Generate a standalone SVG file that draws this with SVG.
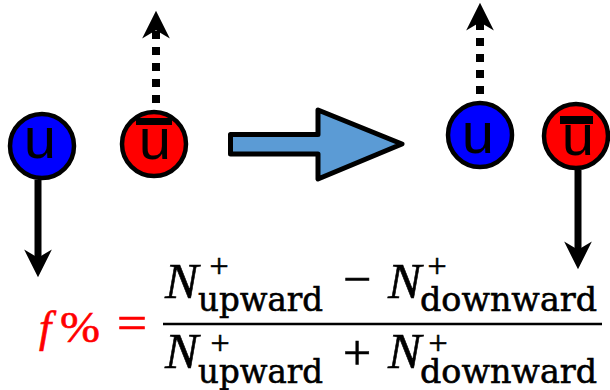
<svg xmlns="http://www.w3.org/2000/svg" width="610" height="390" viewBox="0 0 610 390">
<style>
.q{stroke:#000;stroke-width:4.5}
.blue{fill:#0000FF}
.red{fill:#FF0000}
.lbl{font-family:"Liberation Sans",Arial,sans-serif;font-size:58px;fill:#000;text-anchor:middle}
.solid{stroke:#000;stroke-width:7;fill:none;marker-end:url(#head)}
.dot{stroke:#000;stroke-width:8;fill:none;stroke-dasharray:8 8;marker-end:url(#head)}
.mi{font-family:"Liberation Serif","Times New Roman",serif;font-style:italic}
.mr{font-family:"Liberation Serif","Times New Roman",serif}
.sub{font-family:"DejaVu Serif",serif;font-size:33px}
.sup{font-family:"Liberation Serif",serif;font-size:34px;text-anchor:middle}
#formula text{stroke:#000;stroke-width:0.6}
#formula text.rd{fill:#FF0000;stroke:#FF0000}
</style>
<defs>
<marker id="head" markerUnits="userSpaceOnUse" markerWidth="30" markerHeight="30" viewBox="0 -13 25 26" refX="9" refY="0" orient="auto">
<path d="M0,-12 L24,0 L0,12 L7,0 Z" fill="#000"/>
</marker>
</defs>
<g id="connectors">
<line x1="38" y1="180" x2="38" y2="260" class="solid"/>
<line x1="156" y1="103" x2="156" y2="28" class="dot"/>
<line x1="480" y1="94" x2="480" y2="20" class="dot"/>
<line x1="578" y1="170" x2="578" y2="252" class="solid"/>
</g>
<g id="u-left">
<circle cx="42" cy="146" r="32" class="q blue"/>
<text x="40" y="158" class="lbl">u</text>
</g>
<g id="ubar-left">
<circle cx="154" cy="144" r="32" class="q red"/>
<text x="155" y="159" class="lbl">u</text>
<rect x="136" y="118" width="36" height="7" fill="#000"/>
</g>
<g id="transition-arrow">
<path d="M230.5,134.5 L318,134.5 L318,110 L402,144 L318,179 L318,154 L230.5,154 Z" fill="#5B9BD5" stroke="#000" stroke-width="5" stroke-linejoin="round"/>
</g>
<g id="u-right">
<circle cx="480" cy="135" r="32" class="q blue"/>
<text x="478" y="153" class="lbl">u</text>
</g>
<g id="ubar-right">
<circle cx="576" cy="136" r="32" class="q red"/>
<text x="578" y="155" class="lbl">u</text>
<rect x="560" y="116" width="33" height="8" fill="#000"/>
</g>
<g id="formula">
<text x="39" y="342" class="mi rd" font-size="44">f</text>
<text x="60" y="342" class="mr rd" font-size="44" textLength="40" lengthAdjust="spacingAndGlyphs">%</text>
<text x="117" y="338" class="mr rd" font-size="46" textLength="30" lengthAdjust="spacingAndGlyphs">=</text>
<line x1="163" y1="324" x2="602" y2="324" stroke="#000" stroke-width="2.5"/>
<text x="165" y="298" class="mi" font-size="50">N</text>
<text x="219" y="277" class="sup">+</text>
<text x="198" y="311" class="sub" textLength="125" lengthAdjust="spacingAndGlyphs">upward</text>
<text x="357" y="296" class="mr" font-size="50" text-anchor="middle">−</text>
<text x="388" y="298" class="mi" font-size="50">N</text>
<text x="437" y="277" class="sup">+</text>
<text x="420" y="311" class="sub" textLength="177" lengthAdjust="spacingAndGlyphs">downward</text>
<text x="165" y="368" class="mi" font-size="50">N</text>
<text x="220" y="354" class="sup">+</text>
<text x="198" y="383" class="sub" textLength="125" lengthAdjust="spacingAndGlyphs">upward</text>
<text x="357" y="370" class="mr" font-size="50" text-anchor="middle">+</text>
<text x="388" y="368" class="mi" font-size="50">N</text>
<text x="438" y="354" class="sup">+</text>
<text x="420" y="383" class="sub" textLength="177" lengthAdjust="spacingAndGlyphs">downward</text>
</g>
</svg>
